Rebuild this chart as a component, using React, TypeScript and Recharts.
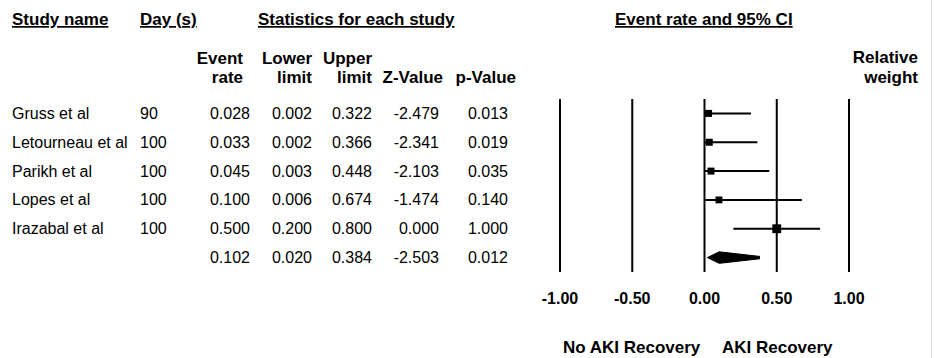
import { Area, ComposedChart, ErrorBar, ReferenceLine, Scatter, XAxis, YAxis } from "recharts";

const studyNames = ["Gruss et al", "Letourneau et al", "Parikh et al", "Lopes et al", "Irazabal et al"];
const studyDays = ["90", "100", "100", "100", "100"];
const eventRates = [0.028, 0.033, 0.045, 0.1, 0.5];
const lowerLimits = [0.002, 0.002, 0.003, 0.006, 0.2];
const upperLimits = [0.322, 0.366, 0.448, 0.674, 0.8];
const zValues = [-2.479, -2.341, -2.103, -1.474, 0.0];
const pValues = [0.013, 0.019, 0.035, 0.14, 1.0];
const weights = [18.04, 17.99, 17.87, 17.35, 28.75];

const summaryRate = 0.102;
const summaryLower = 0.02;
const summaryUpper = 0.384;
const summaryZ = -2.503;
const summaryP = 0.012;

const xTicks = [-1, -0.5, 0, 0.5, 1];
const xTickLabels = ["-1.00", "-0.50", "0.00", "0.50", "1.00"];

const FONT = '"Liberation Sans", Arial, sans-serif';
const ROWS = studyNames.length + 1;
const rowTicks = Array.from({ length: ROWS }, (_, i) => i + 0.5);
const weightTicks = rowTicks.slice(0, studyNames.length);

const studyPoints = studyNames.map((name, i) => ({
  name,
  x: eventRates[i],
  y: i + 0.5,
  weight: weights[i],
  err: [eventRates[i] - lowerLimits[i], upperLimits[i] - eventRates[i]],
}));

// diamond for the pooled estimate, drawn as a range area
const DIAMOND_HALF = 0.2;
const summaryRow = studyNames.length + 0.5;
const diamond = [
  { x: summaryLower, band: [summaryRow, summaryRow] },
  { x: summaryRate, band: [summaryRow - DIAMOND_HALF, summaryRow + DIAMOND_HALF] },
  { x: summaryUpper, band: [summaryRow - 0.04, summaryRow + 0.04] },
];

const fmt = (v: number) => v.toFixed(3);

function RowTick(props: any) {
  const { y, payload } = props;
  const i = Math.floor(payload.value);
  const isSummary = i >= studyNames.length;
  const cells = isSummary
    ? [summaryRate, summaryLower, summaryUpper, summaryZ, summaryP]
    : [eventRates[i], lowerLimits[i], upperLimits[i], zValues[i], pValues[i]];
  const colRight = [250, 312, 372, 439, 508];
  return (
    <g fontFamily={FONT} fontSize={16} fill="#000">
      {!isSummary && (
        <>
          <text x={12} y={y} dominantBaseline="central">{studyNames[i]}</text>
          <text x={140} y={y} dominantBaseline="central">{studyDays[i]}</text>
        </>
      )}
      {cells.map((c, k) => (
        <text key={k} x={colRight[k]} y={y} textAnchor="end" dominantBaseline="central">
          {fmt(c)}
        </text>
      ))}
    </g>
  );
}

function WeightTick(props: any) {
  const { y, payload } = props;
  const i = Math.floor(payload.value);
  return (
    <text x={923} y={y} textAnchor="end" dominantBaseline="central" fontFamily={FONT} fontSize={16} fill="#000">
      {weights[i].toFixed(2)}
    </text>
  );
}

function XTick(props: any) {
  const { x, y, index } = props;
  return (
    <text x={x} y={y + 18} textAnchor="middle" dominantBaseline="central" fontFamily={FONT} fontSize={16} fontWeight="bold" fill="#000">
      {xTickLabels[index]}
    </text>
  );
}

function Square(props: any) {
  const { cx, cy, payload } = props;
  const s = 1.65 * Math.sqrt(payload.weight);
  return <rect x={cx - s / 2} y={cy - s / 2} width={s} height={s} fill="#000" />;
}

function Headers() {
  const bold = { fontFamily: FONT, fontSize: 17, fontWeight: "bold" as const, fill: "#000" };
  const ul = { textDecoration: "underline" };
  return (
    <svg width={935} height={358} style={{ position: "absolute", left: 0, top: 0, pointerEvents: "none" }}>
      <text x={12} y={25} {...bold} style={ul}>Study name</text>
      <text x={140} y={25} {...bold} style={ul}>Day (s)</text>
      <text x={258} y={25} {...bold} style={ul}>Statistics for each study</text>
      <text x={615} y={25} {...bold} style={ul}>Event rate and 95% CI</text>

      <text x={243} y={64} textAnchor="end" {...bold}>Event</text>
      <text x={243} y={83} textAnchor="end" {...bold}>rate</text>
      <text x={312} y={64} textAnchor="end" {...bold}>Lower</text>
      <text x={312} y={83} textAnchor="end" {...bold}>limit</text>
      <text x={372} y={64} textAnchor="end" {...bold}>Upper</text>
      <text x={372} y={83} textAnchor="end" {...bold}>limit</text>
      <text x={443} y={83} textAnchor="end" {...bold}>Z-Value</text>
      <text x={516} y={83} textAnchor="end" {...bold}>p-Value</text>
      <text x={918} y={63} textAnchor="end" {...bold}>Relative</text>
      <text x={918} y={83} textAnchor="end" {...bold}>weight</text>

      <text x={563} y={353} {...bold}>No AKI Recovery</text>
      <text x={722} y={353} {...bold}>AKI Recovery</text>

      <line x1={931.5} y1={0} x2={931.5} y2={358} stroke="#dcdcdc" strokeWidth={1} />
    </svg>
  );
}

export default function App() {
  return (
    <div style={{ position: "relative", width: 935, height: 358, background: "#fff" }}>
      <style>{"body{margin:0}"}</style>
      <ComposedChart width={935} height={358} margin={{ top: 99, right: 0, bottom: 46, left: 0 }}>
        <XAxis
          type="number"
          dataKey="x"
          domain={[-1, 1]}
          ticks={xTicks}
          interval={0}
          allowDataOverflow
          axisLine={false}
          tickLine={false}
          height={40}
          tick={<XTick />}
        />
        <YAxis
          yAxisId="left"
          type="number"
          dataKey="y"
          domain={[0, ROWS]}
          reversed
          ticks={rowTicks}
          interval={0}
          width={560}
          axisLine={false}
          tickLine={false}
          tick={<RowTick />}
        />
        <YAxis
          yAxisId="right"
          orientation="right"
          type="number"
          domain={[0, ROWS]}
          reversed
          ticks={weightTicks}
          interval={0}
          width={86}
          axisLine={false}
          tickLine={false}
          tick={<WeightTick />}
        />
        {xTicks.map((v) => (
          <ReferenceLine key={v} yAxisId="left" x={v} stroke="#000" strokeWidth={2} />
        ))}
        <Scatter yAxisId="left" data={studyPoints} shape={<Square />} isAnimationActive={false}>
          <ErrorBar dataKey="err" direction="x" width={0} stroke="#000" strokeWidth={2} />
        </Scatter>
        <Area
          yAxisId="left"
          data={diamond}
          dataKey="band"
          type="linear"
          stroke="#000"
          strokeWidth={1}
          fill="#000"
          fillOpacity={1}
          isAnimationActive={false}
        />
      </ComposedChart>
      <Headers />
    </div>
  );
}
